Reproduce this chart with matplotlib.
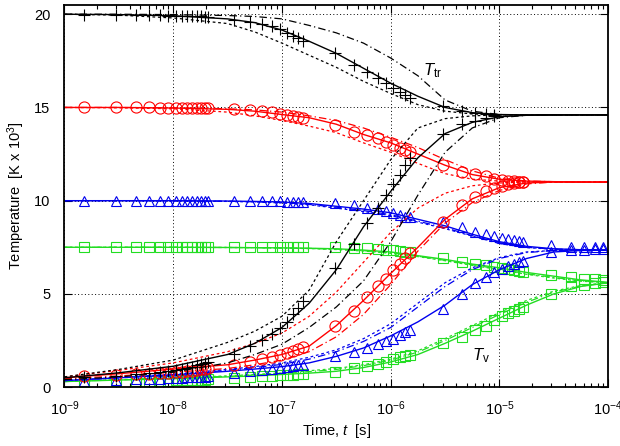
import matplotlib
matplotlib.use("Agg")
import matplotlib.pyplot as plt
from matplotlib.ticker import LogLocator, NullFormatter, MultipleLocator

plt.rcParams['font.family'] = ['Liberation Sans', 'DejaVu Sans']
plt.rcParams['mathtext.fontset'] = 'custom'
plt.rcParams['mathtext.rm'] = 'Liberation Sans'
plt.rcParams['mathtext.it'] = 'Liberation Sans:italic'

# time grid for the model curves (log10 of seconds)
log_t = [-9, -8.5, -8, -7.5, -7.25, -7, -6.75, -6.5, -6.25, -6, -5.75, -5.5, -5.25, -5, -4.75, -4.5, -4.25, -4]

# model curves: solid / dashed / dash-dot, translational and vibrational temperature [K x 10^3]
black_ttr_solid = [20.0, 19.98, 19.92, 19.75, 19.55, 19.15, 18.55, 17.9, 17.1, 16.3, 15.6, 15.0, 14.72, 14.62, 14.6, 14.6, 14.6, 14.6]
black_ttr_dash = [20.0, 19.95, 19.8, 19.5, 19.05, 18.45, 17.8, 17.15, 16.4, 15.75, 15.15, 14.8, 14.65, 14.6, 14.6, 14.6, 14.6, 14.6]
black_ttr_dashdot = [20.0, 20.0, 19.98, 19.93, 19.88, 19.75, 19.4, 19.0, 18.45, 17.65, 16.7, 15.4, 14.8, 14.62, 14.6, 14.6, 14.6, 14.6]
black_tv_solid = [0.5, 0.77, 1.12, 1.75, 2.35, 3.2, 4.5, 6.3, 8.6, 10.5, 12.3, 13.6, 14.2, 14.5, 14.58, 14.6, 14.6, 14.6]
black_tv_dash = [0.55, 0.95, 1.45, 2.4, 3.0, 3.8, 5.2, 7.8, 10.0, 12.2, 13.9, 14.4, 14.55, 14.6, 14.6, 14.6, 14.6, 14.6]
black_tv_dashdot = [0.4, 0.55, 0.8, 1.3, 1.75, 2.3, 3.2, 4.3, 5.7, 7.8, 10.3, 12.6, 13.9, 14.45, 14.58, 14.6, 14.6, 14.6]

red_ttr_solid = [15.0, 15.0, 14.97, 14.9, 14.8, 14.62, 14.45, 14.1, 13.55, 13.1, 12.5, 11.9, 11.4, 11.15, 11.05, 11.02, 11.0, 11.0]
red_ttr_dash = [15.0, 14.98, 14.93, 14.75, 14.55, 14.3, 14.0, 13.65, 13.1, 12.6, 12.0, 11.45, 11.15, 11.05, 11.02, 11.0, 11.0, 11.0]
red_ttr_dashdot = [15.0, 15.0, 14.98, 14.93, 14.87, 14.75, 14.55, 14.3, 13.9, 13.4, 12.85, 12.2, 11.6, 11.2, 11.05, 11.02, 11.0, 11.0]
red_tv_solid = [0.5, 0.72, 0.97, 1.2, 1.45, 1.75, 2.2, 3.3, 4.65, 6.1, 7.5, 9.0, 10.1, 10.7, 10.95, 11.0, 11.0, 11.0]
red_tv_dash = [0.55, 0.9, 1.3, 1.9, 2.35, 2.9, 3.8, 5.1, 6.7, 8.3, 9.6, 10.4, 10.8, 10.95, 11.0, 11.0, 11.0, 11.0]
red_tv_dashdot = [0.45, 0.6, 0.8, 1.0, 1.2, 1.45, 1.9, 2.7, 3.9, 5.5, 7.3, 8.8, 9.9, 10.55, 10.9, 11.0, 11.0, 11.0]

blue_ttr_solid = [10.0, 10.0, 10.0, 9.98, 9.96, 9.93, 9.85, 9.7, 9.55, 9.35, 9.0, 8.65, 8.2, 7.8, 7.55, 7.42, 7.37, 7.35]
blue_ttr_dash = [10.0, 10.0, 9.99, 9.96, 9.93, 9.88, 9.78, 9.6, 9.42, 9.2, 8.85, 8.5, 8.1, 7.7, 7.48, 7.4, 7.36, 7.35]
blue_ttr_dashdot = [10.0, 10.0, 9.99, 9.97, 9.94, 9.9, 9.8, 9.65, 9.47, 9.25, 8.9, 8.55, 8.12, 7.75, 7.5, 7.4, 7.36, 7.35]
blue_tv_solid = [0.35, 0.5, 0.65, 0.85, 0.97, 1.1, 1.3, 1.65, 2.1, 2.75, 3.5, 4.4, 5.5, 6.3, 6.9, 7.25, 7.33, 7.35]
blue_tv_dash = [0.35, 0.52, 0.7, 0.95, 1.1, 1.3, 1.6, 2.0, 2.6, 3.4, 4.5, 5.6, 6.4, 6.95, 7.25, 7.33, 7.35, 7.35]
blue_tv_dashdot = [0.35, 0.5, 0.68, 0.9, 1.05, 1.22, 1.5, 1.9, 2.45, 3.2, 4.3, 5.4, 6.3, 6.9, 7.22, 7.32, 7.35, 7.35]

green_ttr_solid = [7.5, 7.5, 7.5, 7.49, 7.48, 7.47, 7.45, 7.42, 7.35, 7.25, 7.05, 6.85, 6.6, 6.4, 6.15, 5.95, 5.75, 5.62]
green_ttr_dash = [7.5, 7.5, 7.5, 7.49, 7.48, 7.46, 7.43, 7.38, 7.3, 7.18, 7.0, 6.78, 6.53, 6.3, 6.05, 5.85, 5.68, 5.6]
green_ttr_dashdot = [7.5, 7.5, 7.5, 7.49, 7.48, 7.46, 7.44, 7.4, 7.32, 7.2, 7.02, 6.8, 6.56, 6.33, 6.08, 5.88, 5.7, 5.6]
green_tv_solid = [0.3, 0.38, 0.45, 0.55, 0.6, 0.68, 0.75, 0.85, 1.05, 1.35, 1.75, 2.35, 3.0, 3.7, 4.4, 5.0, 5.4, 5.6]
green_tv_dash = [0.3, 0.4, 0.5, 0.6, 0.68, 0.76, 0.88, 1.0, 1.2, 1.5, 1.95, 2.6, 3.3, 4.0, 4.65, 5.15, 5.45, 5.6]
green_tv_dashdot = [0.3, 0.39, 0.48, 0.58, 0.65, 0.73, 0.83, 0.95, 1.15, 1.45, 1.88, 2.5, 3.2, 3.9, 4.55, 5.1, 5.42, 5.6]

# sample times of the simulation points [s]
t_g1 = [1.5e-9, 3e-9, 4.5e-9, 6e-9, 7.5e-9, 9e-9, 10.5e-9, 12e-9, 13.5e-9, 15e-9, 16.5e-9, 18e-9, 19.5e-9, 21e-9]
t_g2 = [3.6e-8, 5.1e-8, 6.6e-8, 8.1e-8, 9.6e-8, 11.1e-8, 12.6e-8, 14.1e-8, 15.6e-8]
t_g3 = [3.1e-7, 4.6e-7, 6.1e-7, 7.6e-7, 9.1e-7, 10.6e-7, 12.1e-7, 13.6e-7, 15.1e-7]
t_g4 = [3.0e-6, 4.5e-6, 6.0e-6, 7.5e-6, 9.0e-6, 10.5e-6, 12.0e-6, 13.5e-6, 15.0e-6, 16.5e-6]
t_g5 = [3.0e-5, 4.5e-5, 6.0e-5, 7.5e-5, 9.0e-5]

t_black = t_g1 + t_g2 + t_g3 + t_g4[:5]
t_red = t_g1 + t_g2 + t_g3 + t_g4
t_bluegreen = t_g1 + t_g2 + t_g3 + t_g4 + t_g5

black_ttr_pts = [19.97, 19.96, 19.95, 19.95, 19.94, 19.93, 19.92, 19.92, 19.91, 19.9, 19.89, 19.88, 19.87, 19.86,
                 19.7, 19.6, 19.5, 19.35, 19.2, 19.0, 18.85, 18.7, 18.55,
                 17.9, 17.3, 16.9, 16.6, 16.3, 16.05, 15.85, 15.65, 15.5,
                 15.1, 14.8, 14.7, 14.65, 14.6]
black_tv_pts = [0.55, 0.62, 0.68, 0.74, 0.8, 0.86, 0.92, 0.98, 1.04, 1.1, 1.16, 1.22, 1.28, 1.34,
                1.8, 2.2, 2.52, 2.84, 3.15, 3.5, 3.9, 4.27, 4.6,
                6.4, 7.7, 8.8, 9.6, 10.3, 10.9, 11.4, 11.9, 12.3,
                13.6, 14.1, 14.3, 14.45, 14.55]
red_ttr_pts = [15.0, 15.0, 15.0, 15.0, 14.99, 14.99, 14.99, 14.98, 14.98, 14.98, 14.97, 14.97, 14.97, 14.96,
               14.9, 14.85, 14.8, 14.75, 14.65, 14.6, 14.55, 14.5, 14.45,
               14.05, 13.7, 13.5, 13.35, 13.15, 13.0, 12.8, 12.7, 12.6,
               11.9, 11.55, 11.45, 11.3, 11.15, 11.1, 11.05, 11.05, 11.02, 11.0]
red_tv_pts = [0.6, 0.64, 0.68, 0.71, 0.74, 0.77, 0.8, 0.83, 0.86, 0.89, 0.92, 0.95, 0.98, 1.0,
              1.18, 1.36, 1.5, 1.62, 1.72, 1.82, 1.92, 2.03, 2.15,
              3.3, 4.1, 4.85, 5.4, 5.8, 6.27, 6.6, 6.9, 7.2,
              8.86, 9.76, 10.2, 10.5, 10.67, 10.8, 10.9, 10.95, 11.0, 11.0]
blue_ttr_pts = [10.0, 10.0, 10.0, 10.0, 10.0, 10.0, 10.0, 10.0, 10.0, 10.0, 10.0, 10.0, 10.0, 10.0,
                10.0, 10.0, 9.98, 9.98, 9.96, 9.95, 9.94, 9.93, 9.92,
                9.9, 9.76, 9.63, 9.53, 9.45, 9.35, 9.25, 9.15, 9.1,
                8.86, 8.6, 8.33, 8.2, 8.1, 8.0, 7.95, 7.9, 7.85, 7.8,
                7.6, 7.52, 7.5, 7.49, 7.49]
blue_tv_pts = [0.35, 0.38, 0.41, 0.43, 0.45, 0.47, 0.49, 0.5, 0.52, 0.53, 0.55, 0.56, 0.57, 0.58,
               0.75, 0.85, 0.92, 0.98, 1.03, 1.08, 1.12, 1.16, 1.2,
               1.65, 1.9, 2.1, 2.3, 2.45, 2.6, 2.8, 2.95, 3.06,
               4.2, 5.0, 5.56, 5.9, 6.15, 6.36, 6.5, 6.6, 6.7, 6.75,
               7.25, 7.35, 7.38, 7.4, 7.4]
green_ttr_pts = [7.5, 7.5, 7.5, 7.5, 7.5, 7.5, 7.5, 7.5, 7.5, 7.5, 7.5, 7.5, 7.5, 7.5,
                 7.49, 7.49, 7.49, 7.49, 7.49, 7.49, 7.49, 7.49, 7.49,
                 7.5, 7.47, 7.44, 7.4, 7.38, 7.35, 7.3, 7.27, 7.25,
                 6.9, 6.72, 6.63, 6.55, 6.45, 6.38, 6.32, 6.27, 6.23, 6.2,
                 6.0, 5.9, 5.82, 5.78, 5.74]
green_tv_pts = [0.3, 0.31, 0.32, 0.33, 0.34, 0.35, 0.36, 0.37, 0.38, 0.38, 0.39, 0.4, 0.4, 0.41,
                0.5, 0.55, 0.58, 0.6, 0.63, 0.65, 0.67, 0.69, 0.7,
                0.82, 1.0, 1.12, 1.25, 1.36, 1.5, 1.62, 1.68, 1.72,
                2.34, 2.7, 3.06, 3.3, 3.6, 3.8, 4.0, 4.1, 4.2, 4.3,
                5.0, 5.4, 5.5, 5.6, 5.65]

x_ticks = [1e-9, 1e-8, 1e-7, 1e-6, 1e-5, 1e-4]
x_ticklabels = ['$10^{-9}$', '$10^{-8}$', '$10^{-7}$', '$10^{-6}$', '$10^{-5}$', '$10^{-4}$']
y_ticks = [0, 5, 10, 15, 20]

DASH = (0, (2.2, 2.2))
DASHDOT = (0, (6, 2.5, 1, 2.5))


def draw_group(ax, color, curves, t_pts, ttr_pts, tv_pts, marker, msize):
    t = [10 ** e for e in log_t]
    for solid, dash, dashdot in curves:
        ax.plot(t, dash, color=color, lw=0.9, linestyle=DASH)
        ax.plot(t, dashdot, color=color, lw=0.9, linestyle=DASHDOT)
        ax.plot(t, solid, color=color, lw=1.0, linestyle='-')
    for vals in (ttr_pts, tv_pts):
        ax.plot(t_pts, vals, linestyle='none', marker=marker, markersize=msize,
                markerfacecolor='none', markeredgecolor=color, markeredgewidth=0.8)


def main():
    fig = plt.figure(figsize=(6.2, 4.46), dpi=100)
    ax = fig.add_axes([0.104, 0.132, 0.877, 0.857])

    green = '#22dd22'
    draw_group(ax, green, [(green_ttr_solid, green_ttr_dash, green_ttr_dashdot),
                           (green_tv_solid, green_tv_dash, green_tv_dashdot)],
               t_bluegreen, green_ttr_pts, green_tv_pts, 's', 7.5)
    draw_group(ax, '#0000ee', [(blue_ttr_solid, blue_ttr_dash, blue_ttr_dashdot),
                               (blue_tv_solid, blue_tv_dash, blue_tv_dashdot)],
               t_bluegreen, blue_ttr_pts, blue_tv_pts, '^', 7.5)
    draw_group(ax, '#ff0000', [(red_ttr_solid, red_ttr_dash, red_ttr_dashdot),
                               (red_tv_solid, red_tv_dash, red_tv_dashdot)],
               t_red, red_ttr_pts, red_tv_pts, 'o', 8)
    draw_group(ax, 'black', [(black_ttr_solid, black_ttr_dash, black_ttr_dashdot),
                             (black_tv_solid, black_tv_dash, black_tv_dashdot)],
               t_black, black_ttr_pts, black_tv_pts, '+', 9)

    ax.set_xscale('log')
    ax.set_xlim(1e-9, 1e-4)
    ax.set_ylim(0, 20.5)
    ax.set_xticks(x_ticks)
    ax.set_xticklabels(x_ticklabels)
    ax.xaxis.set_minor_locator(LogLocator(base=10, subs=range(2, 10), numticks=50))
    ax.xaxis.set_minor_formatter(NullFormatter())
    ax.set_yticks(y_ticks)

    ax.grid(True, which='major', color='black', linestyle=(0, (1, 2.5)), linewidth=0.7)
    ax.tick_params(which='both', direction='in', top=True, right=True, labelsize=10.5, colors='black')
    ax.tick_params(which='major', length=6, width=0.8)
    ax.tick_params(which='minor', length=3, width=0.8)
    ax.tick_params(axis='x', which='major', pad=9)
    ax.tick_params(axis='y', which='major', pad=10)
    for sp in ax.spines.values():
        sp.set_linewidth(1.3)

    ax.set_xlabel('Time, $t$  [s]', fontsize=10.5, labelpad=3)
    ax.set_ylabel('Temperature  [K x 10$^3$]', fontsize=10.5, labelpad=5)

    ax.text(2.0e-6, 17.0, r'$T_{\rm tr}$', fontsize=12, ha='left', va='center')
    ax.text(5.6e-6, 1.7, r'$T_{\rm v}$', fontsize=12, ha='left', va='center')

    fig.savefig('out.png', dpi=100)


main()
